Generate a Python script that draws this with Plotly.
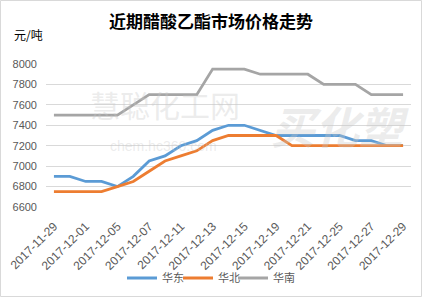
import plotly.graph_objects as go

dates = ["2017-11-29", "2017-11-30", "2017-12-01", "2017-12-04", "2017-12-05", "2017-12-06",
         "2017-12-07", "2017-12-08", "2017-12-11", "2017-12-12", "2017-12-13", "2017-12-14",
         "2017-12-15", "2017-12-18", "2017-12-19", "2017-12-20", "2017-12-21", "2017-12-22",
         "2017-12-25", "2017-12-26", "2017-12-27", "2017-12-28", "2017-12-29"]
huadong = [6900, 6900, 6850, 6850, 6800, 6900, 7050, 7100, 7200, 7250, 7350, 7400,
           7400, 7350, 7300, 7300, 7300, 7300, 7300, 7250, 7250, 7200, 7200]
huabei = [6750, 6750, 6750, 6750, 6800, 6850, 6950, 7050, 7100, 7150, 7250, 7300,
          7300, 7300, 7300, 7200, 7200, 7200, 7200, 7200, 7200, 7200, 7200]
huanan = [7500, 7500, 7500, 7500, 7500, 7600, 7700, 7700, 7700, 7700, 7950, 7950,
          7950, 7900, 7900, 7900, 7900, 7800, 7800, 7800, 7700, 7700, 7700]
tick_labels = dates[::2]
y_ticks = [6600, 6800, 7000, 7200, 7400, 7600, 7800, 8000]

series = [("华东", huadong, "#5B9BD5"), ("华北", huabei, "#ED7D31"), ("华南", huanan, "#A5A5A5")]
legend_ids = ["legend", "legend2", "legend3"]

fig = go.Figure()
for (name, vals, color), lg in zip(series, legend_ids):
    fig.add_trace(go.Scatter(x=dates, y=vals, name=name, mode="lines", legend=lg,
                             line=dict(color=color, width=2.8)))

W, H = 422, 297
L, R, T, B = 46, 11, 64, 90
pw, ph = W - L - R, H - T - B

def px(xp):
    return (xp - L) / pw

def py(yp):
    return (H - B - yp) / ph

legend_starts = [122, 178, 233]

def legend_cfg(x0):
    return dict(orientation="h", x=px(x0), xanchor="left", y=py(278), yanchor="middle",
                font=dict(family="Noto Sans CJK SC", size=11, color="#595959"),
                itemwidth=30, bgcolor="rgba(0,0,0,0)")

fig.update_layout(
    width=W, height=H,
    margin=dict(l=L, r=R, t=T, b=B, autoexpand=False),
    paper_bgcolor="white", plot_bgcolor="white",
    font=dict(family="Liberation Sans, Noto Sans CJK SC", color="#595959", size=11),
    title=dict(text="<b>近期醋酸乙酯市场价格走势</b>", x=0.5, xanchor="center",
               y=1 - 22 / H, yanchor="middle",
               font=dict(family="Noto Sans CJK SC", size=17, color="#000000")),
    showlegend=True,
    legend=legend_cfg(legend_starts[0]),
    legend2=legend_cfg(legend_starts[1]),
    legend3=legend_cfg(legend_starts[2]),
    xaxis=dict(type="category", range=[-0.5, len(dates) - 0.5], automargin=False,
               tickmode="array", tickvals=tick_labels, ticktext=tick_labels,
               tickangle=-45, showgrid=False, zeroline=False, showline=False,
               ticks="", ticklabelstandoff=9, tickfont=dict(size=12, color="#595959")),
    yaxis=dict(range=[6600, 8000], tickvals=y_ticks, showgrid=True, automargin=False,
               gridcolor="#D9D9D9", gridwidth=1, zeroline=False, showline=False,
               ticks="", ticklabelstandoff=8, tickfont=dict(size=11, color="#595959")),
)

# watermark
fig.add_annotation(text="慧聪化工网", xref="paper", yref="paper", x=px(165), y=py(104),
                   xanchor="center", yanchor="middle", showarrow=False,
                   font=dict(family="Noto Sans CJK SC", size=30, color="rgba(200,200,200,0.35)"))
fig.add_annotation(text="chem.hc360.com", xref="paper", yref="paper", x=px(163), y=py(146),
                   xanchor="center", yanchor="middle", showarrow=False,
                   font=dict(family="Liberation Sans", size=14, color="rgba(200,200,200,0.35)"))
fig.add_annotation(text="<b><i>买化塑</i></b>", xref="paper", yref="paper", x=px(340), y=py(125),
                   xanchor="center", yanchor="middle", showarrow=False,
                   font=dict(family="Noto Sans CJK SC", size=44, color="rgba(200,200,200,0.35)"))

fig.add_annotation(text="元/吨", xref="paper", yref="paper", x=px(12), y=py(34),
                   xanchor="left", yanchor="middle", showarrow=False,
                   font=dict(family="Noto Sans CJK SC", size=12, color="#000000"))

# outer border
fig.add_shape(type="rect", xref="paper", yref="paper",
              x0=px(0.5), x1=px(W - 0.5), y0=py(H - 0.5), y1=py(0.5),
              line=dict(color="#D9D9D9", width=1), layer="below")

fig.write_html("out.html")
